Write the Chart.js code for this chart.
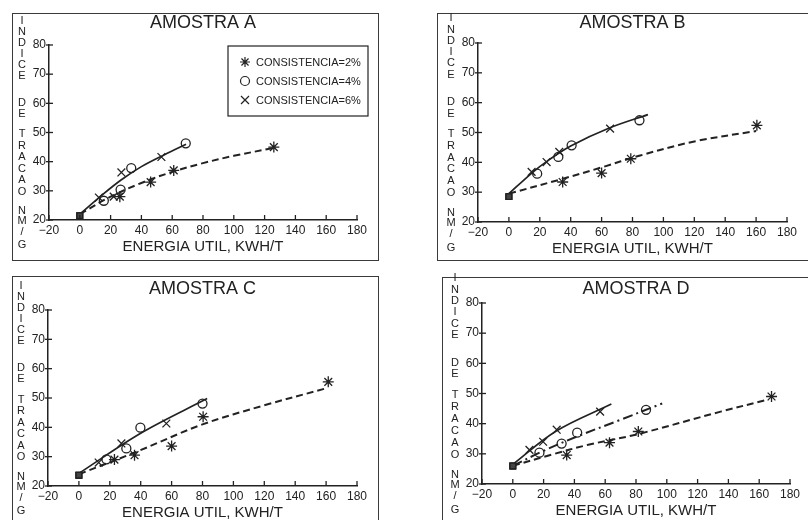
<!DOCTYPE html>
<html>
<head>
<meta charset="utf-8">
<script src="https://cdn.jsdelivr.net/npm/chart.js@4.4.0/dist/chart.umd.min.js"></script>
<style>
html, body { margin: 0; padding: 0; background: #fff; }
body { width: 808px; height: 520px; position: relative; overflow: hidden; }
.box { position: absolute; border: 1.5px solid #3a3a3a; box-sizing: border-box; }
canvas { position: absolute; }
</style>
</head>
<body>
<div class="box" style="left:12px;top:13px;width:367px;height:248px"></div>
<div class="box" style="left:437px;top:13px;width:390px;height:248px"></div>
<div class="box" style="left:12px;top:276px;width:367px;height:260px"></div>
<div class="box" style="left:442px;top:277px;width:390px;height:260px"></div>

<canvas id="chartA" width="366" height="247" style="left:9px;top:9px"></canvas>
<canvas id="chartB" width="367" height="251" style="left:438px;top:7px"></canvas>
<canvas id="chartC" width="367" height="248" style="left:8px;top:274px"></canvas>
<canvas id="chartD" width="366" height="253" style="left:442px;top:267px"></canvas>

<script>
// tick values and labels
var xTickValues = [-20, 0, 20, 40, 60, 80, 100, 120, 140, 160, 180];
var yTickValues = [20, 30, 40, 50, 60, 70, 80];
var seriesLabels = ['CONSISTENCIA=2%', 'CONSISTENCIA=4%', 'CONSISTENCIA=6%'];
var xTitle = 'ENERGIA UTIL, KWH/T';

// AMOSTRA A
var aStarX = [0, 26, 46, 61, 126];
var aStarY = [21.5, 28, 33, 37, 45];
var aCircX = [0, 15.6, 26.5, 33.4, 68.8];
var aCircY = [21.5, 26.6, 30.4, 37.8, 46.3];
var aCrossX = [0, 12.4, 22, 27, 53];
var aCrossY = [21.5, 27.7, 28, 36.3, 41.6];
var aFitLowX = [0, 20, 40, 60, 80, 100, 125];
var aFitLowY = [22, 28, 32.7, 36.5, 39.5, 42, 44.6];
var aFitHighX = [0, 15, 27, 40, 55, 69];
var aFitHighY = [22, 28.8, 33.8, 38.3, 42.4, 46];

// AMOSTRA B
var bStarX = [0, 34.8, 60, 78.9, 160.5];
var bStarY = [28.5, 33.4, 36.4, 41.2, 52.4];
var bCircX = [0, 18.3, 32, 40.6, 84.5];
var bCircY = [28.5, 36.2, 41.8, 45.7, 54.1];
var bCrossX = [0, 14.7, 24.4, 32.6, 65.5];
var bCrossY = [28.5, 36.8, 40.1, 43.5, 51.3];
var bFitLowX = [0, 35, 60, 85, 120, 160];
var bFitLowY = [29.5, 34.5, 38.3, 42.3, 47, 50.5];
var bFitHighX = [0, 15, 25, 40, 65, 90];
var bFitHighY = [29.5, 36.5, 40.5, 45.5, 51.5, 56];

// AMOSTRA C
var cStarX = [0, 23, 36, 60, 80.4, 161.4];
var cStarY = [23.7, 29, 30.5, 33.6, 43.6, 55.5];
var cCircX = [0, 17.8, 30.7, 39.8, 80];
var cCircY = [23.7, 29.1, 32.8, 39.9, 48.1];
var cCrossX = [0, 12.8, 27.5, 56.6];
var cCrossY = [23.7, 28, 34.5, 41.3];
var cFitLowX = [0, 37, 80, 120, 160];
var cFitLowY = [24, 31.6, 41, 47.5, 53.3];
var cFitHighX = [0, 40, 83];
var cFitHighY = [24.3, 38, 49.8];

// AMOSTRA D
var dStarX = [0, 35, 62.8, 81.5, 168];
var dStarY = [26, 29.6, 33.7, 37.4, 49];
var dCircX = [0, 17.3, 31.7, 41.8, 86.5];
var dCircY = [26, 30.4, 33.4, 37, 44.6];
var dCrossX = [0, 10.8, 19.7, 28.5, 56.7];
var dCrossY = [26, 31.3, 34, 38, 44];
var dFit2X = [0, 25, 49, 81, 135, 166];
var dFit2Y = [26, 29.7, 33, 36.5, 44, 48];
var dFit4X = [0, 20, 42, 70, 97];
var dFit4Y = [26, 31, 35.8, 41.3, 46.7];
var dFit6X = [0, 28, 64];
var dFit6Y = [26.5, 37.5, 46.5];

var INK = '#222';
var FONT = '"Liberation Sans", Arial, sans-serif';
var DASHED = [7, 4];
var SOLID = [];
var DASHDOT = [10, 4, 2, 4];
var markStyles = ['star', 'circle', 'crossRot'];

// stacked letters of the y title, offset from the top of the plot area
var yTitleRows = [
	['I', -24], ['N', -13], ['D', -2], ['I', 9], ['C', 20], ['E', 31],
	['D', 58], ['E', 69],
	['T', 89], ['R', 100.5], ['A', 112], ['C', 123.5], ['A', 135], ['O', 146.5],
	['N', 166], ['M', 176], ['/', 187], ['G', 200]
];

function pts(xs, ys) {
	return xs.map(function(x, i) { return {x: x, y: ys[i]}; });
}

function drawMark(ctx, style, x, y) {
	ctx.beginPath();
	if (style == 'star') {
		var r = 5;
		for (var k = 0; k < 4; k++) {
			var a = k * Math.PI / 4;
			ctx.moveTo(x - r * Math.cos(a), y - r * Math.sin(a));
			ctx.lineTo(x + r * Math.cos(a), y + r * Math.sin(a));
		}
	} else if (style == 'circle') {
		ctx.arc(x, y, 4.5, 0, Math.PI * 2);
	} else {
		ctx.moveTo(x - 4, y - 4); ctx.lineTo(x + 4, y + 4);
		ctx.moveTo(x + 4, y - 4); ctx.lineTo(x - 4, y + 4);
	}
	ctx.stroke();
}

var panelDecor = {
	id: 'panelDecor',
	afterDraw: function(chart) {
		var o = chart.options.plugins.panelDecor;
		var ctx = chart.ctx, a = chart.chartArea;
		var xs = chart.scales.x, ys = chart.scales.y;
		ctx.save();
		ctx.strokeStyle = INK;
		ctx.fillStyle = INK;
		ctx.lineWidth = 1.3;
		// tick marks point into the plot, like the plotter output
		xs.ticks.forEach(function(t) {
			var px = xs.getPixelForValue(t.value);
			ctx.beginPath(); ctx.moveTo(px, a.bottom); ctx.lineTo(px, a.bottom - 5); ctx.stroke();
		});
		ys.ticks.forEach(function(t) {
			var py = ys.getPixelForValue(t.value);
			ctx.beginPath(); ctx.moveTo(a.left - 3, py); ctx.lineTo(a.left + 4, py); ctx.stroke();
		});

		ctx.textAlign = 'center';
		ctx.textBaseline = 'middle';
		ctx.font = '18px ' + FONT;
		ctx.fillText(o.title, (a.left + a.right) / 2, o.titleY);

		ctx.font = '11px ' + FONT;
		var k = (a.bottom - a.top) / 175;
		yTitleRows.forEach(function(r) {
			ctx.fillText(r[0], a.left - 27, a.top + r[1] * k);
		});

		if (o.legend) {
			var lx = a.left + 179, ly = a.top + 1;
			ctx.lineWidth = 1.2;
			ctx.strokeRect(lx, ly, 140, 70);
			ctx.textAlign = 'left';
			ctx.font = '11px ' + FONT;
			seriesLabels.forEach(function(lab, i) {
				var cy = ly + 16 + i * 19;
				drawMark(ctx, markStyles[i], lx + 17, cy);
				ctx.fillText(lab, lx + 28, cy + 1);
			});
		}
		ctx.restore();
	}
};

function makePanel(id, title, titleY, legend, marks, fits) {
	var datasets = [];
	fits.forEach(function(f) {
		datasets.push({
			data: pts(f[0], f[1]),
			showLine: true,
			borderColor: INK,
			borderWidth: f[2].length ? 2 : 1.7,
			borderDash: f[2],
			pointRadius: 0,
			tension: 0.35,
			order: 2
		});
	});
	marks.forEach(function(m, i) {
		datasets.push({
			label: seriesLabels[i],
			data: pts(m[0], m[1]),
			showLine: false,
			pointStyle: function(c) { return c.dataIndex === 0 ? 'rect' : markStyles[i]; },
			pointRadius: function(c) { return c.dataIndex === 0 ? 4 : (i == 1 ? 4.5 : 5.5); },
			pointBorderColor: INK,
			pointBorderWidth: 1.3,
			pointBackgroundColor: function(c) { return c.dataIndex === 0 ? '#444' : 'rgba(0,0,0,0)'; },
			order: 1
		});
	});

	return new Chart(document.getElementById(id), {
		type: 'scatter',
		data: { datasets: datasets },
		options: {
			responsive: false,
			animation: false,
			events: [],
			layout: { padding: { top: 36, right: 18, left: 0, bottom: 0 } },
			plugins: {
				legend: { display: false },
				tooltip: { enabled: false },
				panelDecor: { title: title, titleY: titleY, legend: legend }
			},
			scales: {
				x: {
					type: 'linear',
					min: -20, max: 180,
					afterBuildTicks: function(s) { s.ticks = xTickValues.map(function(v) { return {value: v}; }); },
					afterFit: function(s) { s.height = 36; },
					grid: { display: false, drawTicks: false },
					border: { display: true, color: INK, width: 1.5 },
					ticks: {
						padding: 3, color: INK, maxRotation: 0, autoSkip: false,
						font: { family: FONT, size: 12 },
						callback: function(v) { return v < 0 ? '\u2212' + Math.abs(v) : String(v); }
					},
					title: { display: true, text: xTitle, color: INK, font: { family: FONT, size: 15 }, padding: { top: 0, bottom: 0 } }
				},
				y: {
					type: 'linear',
					min: 20, max: 80,
					afterBuildTicks: function(s) { s.ticks = yTickValues.map(function(v) { return {value: v}; }); },
					afterFit: function(s) { s.width = 40; },
					grid: { display: false, drawTicks: false },
					border: { display: true, color: INK, width: 1.5 },
					ticks: { padding: 3, color: INK, font: { family: FONT, size: 12 } }
				}
			}
		},
		plugins: [panelDecor]
	});
}

makePanel('chartA', 'AMOSTRA A', 14, true,
	[[aStarX, aStarY], [aCircX, aCircY], [aCrossX, aCrossY]],
	[[aFitLowX, aFitLowY, DASHED], [aFitHighX, aFitHighY, SOLID]]);
makePanel('chartB', 'AMOSTRA B', 16, false,
	[[bStarX, bStarY], [bCircX, bCircY], [bCrossX, bCrossY]],
	[[bFitLowX, bFitLowY, DASHED], [bFitHighX, bFitHighY, SOLID]]);
makePanel('chartC', 'AMOSTRA C', 15, false,
	[[cStarX, cStarY], [cCircX, cCircY], [cCrossX, cCrossY]],
	[[cFitLowX, cFitLowY, DASHED], [cFitHighX, cFitHighY, SOLID]]);
makePanel('chartD', 'AMOSTRA D', 22, false,
	[[dStarX, dStarY], [dCircX, dCircY], [dCrossX, dCrossY]],
	[[dFit2X, dFit2Y, DASHED], [dFit4X, dFit4Y, DASHDOT], [dFit6X, dFit6Y, SOLID]]);
</script>
</body>
</html>
